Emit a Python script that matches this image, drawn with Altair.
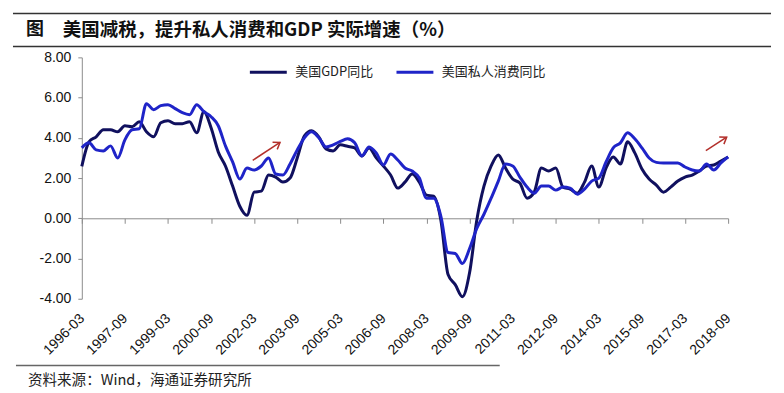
import altair as alt
import pandas as pd

TITLE_TAG = "图"
TITLE = "美国减税，提升私人消费和GDP 实际增速（%）"
SOURCE = "资料来源：Wind，海通证券研究所"
SERIES = ["美国GDP同比", "美国私人消费同比"]
COLORS = ["#10105e", "#1f24c8"]
ARROW_COLOR = "#b3302b"

# quarterly categories 1996-03 ... 2018-09
quarters = [f"{y}-{m:02d}" for y in range(1996, 2019) for m in (3, 6, 9, 12)][:91]
tick_labels = ["1996-03", "1997-09", "1999-03", "2000-09", "2002-03", "2003-09",
               "2005-03", "2006-09", "2008-03", "2009-09", "2011-03", "2012-09",
               "2014-03", "2015-09", "2017-03", "2018-09"]
y_ticks = [-4, -2, 0, 2, 4, 6, 8]

gdp = [2.58, 3.8, 4.05, 4.4, 4.4, 4.3, 4.6, 4.55, 4.8, 4.3,
       4.05, 4.75, 4.85, 4.7, 4.7, 4.8, 4.25, 5.3, 4.5, 3.3,
       2.6, 1.6, 0.6, 0.15, 1.3, 1.35, 2.15, 2.05, 1.8, 2.0,
       3.0, 4.1, 4.35, 4.05, 3.45, 3.35, 3.65, 3.58, 3.5, 3.1,
       3.5, 3.0, 2.6, 2.15, 1.5, 1.8, 2.2, 1.8, 1.15, 1.1,
       -0.1, -2.8, -3.3, -3.9, -2.7, -0.1, 1.6, 2.6, 3.15, 2.5,
       1.95, 1.75, 1.0, 1.3, 2.5, 2.35, 2.5, 1.55, 1.45, 1.25,
       1.8, 2.6, 1.55, 2.5, 3.05, 2.7, 3.8, 3.25, 2.45, 1.95,
       1.65, 1.3, 1.55, 1.85, 2.05, 2.15, 2.35, 2.6, 2.65, 2.85,
       3.05]
pce = [3.5, 3.75, 3.4, 3.35, 3.6, 3.0, 3.9, 4.4, 4.45, 5.7,
       5.4, 5.6, 5.65, 5.45, 5.25, 5.15, 5.65, 5.3, 5.05, 4.6,
       3.6, 2.8, 1.95, 2.5, 2.4, 2.6, 3.0, 2.2, 2.15, 2.7,
       3.4, 4.0, 4.3, 4.0, 3.55, 3.65, 3.82, 3.95, 3.75, 3.1,
       3.55, 3.25, 2.65, 3.2, 2.9, 2.5, 2.35, 2.0, 1.0, 1.0,
       0.1, -1.7, -1.75, -2.25, -1.5, -0.5, 0.2, 1.0, 1.85, 2.7,
       2.6, 2.05, 1.55, 1.25, 1.6, 1.6, 1.4, 1.55, 1.5, 1.2,
       1.45, 1.85, 2.0, 2.8, 3.5, 3.75, 4.25, 3.95, 3.5, 3.0,
       2.78, 2.75, 2.75, 2.75, 2.55, 2.4, 2.35, 2.7, 2.4, 2.75,
       3.05]

# annotation arrows (data coordinates: quarter index, percent)
arrow_x = [23.8, 86.9]
arrow_y = [2.88, 3.36]
arrow_x2 = [27.6, 89.8]
arrow_y2 = [3.77, 4.03]

rows = []
for name, vals in zip(SERIES, [gdp, pce]):
    for i, (q, v) in enumerate(zip(quarters, vals)):
        rows.append({"idx": i, "quarter": q, "series": name, "value": v})
df = pd.DataFrame(rows)
arrows = pd.DataFrame({"idx": arrow_x, "value": arrow_y, "x2": arrow_x2, "y2": arrow_y2})

W, H = 648, 242
zero_offset = -(H - H * 8 / 12)

label_expr = "[" + ",".join(f"'{t}'" for t in tick_labels) + "][round(datum.value / 6)]"
y_label_expr = "replace(format(datum.value, '.2f'), '\u2212', '-')"
AXIS_FONT = "Liberation Sans"
CJK_FONT = "Noto Sans CJK SC"

x_axis = alt.Axis(values=list(range(0, 91, 6)), labelExpr=label_expr, title=None,
                  grid=False, offset=zero_offset, domainColor="#8c8c8c", tickColor="#8c8c8c",
                  tickSize=5, labelAngle=315, labelAlign="right", labelBaseline="middle",
                  labelPadding=93, labelFont=AXIS_FONT, labelFontSize=14, labelColor="#111111",
                  labelOverlap=False, labelFlush=False)
y_axis = alt.Axis(values=y_ticks, labelExpr=y_label_expr, title=None, grid=False,
                  domainColor="#8c8c8c", tickColor="#8c8c8c", tickSize=4, labelPadding=7,
                  labelFont=AXIS_FONT, labelFontSize=14, labelColor="#111111")

x_enc = alt.X("idx:Q", scale=alt.Scale(domain=[0, 90], nice=False, zero=False), axis=x_axis)
y_enc = alt.Y("value:Q", scale=alt.Scale(domain=[-4, 8], nice=False), axis=y_axis)

color = alt.Color("series:N", scale=alt.Scale(domain=SERIES, range=COLORS),
                  legend=alt.Legend(title=None, orient="none", legendX=167, legendY=-5,
                                    direction="horizontal", symbolType="stroke",
                                    symbolSize=1369, symbolStrokeWidth=3, labelOffset=7,
                                    columnPadding=16, padding=0, labelFont=CJK_FONT,
                                    labelFontSize=13, labelColor="#222222"))

base = alt.Chart(df).encode(x=x_enc, y=y_enc, color=color)
gdp_line = base.transform_filter(alt.datum.series == SERIES[0]).mark_line(
    interpolate="monotone", strokeWidth=3)
pce_line = base.transform_filter(alt.datum.series == SERIES[1]).mark_line(
    interpolate="monotone", strokeWidth=3)

arrow_shaft = alt.Chart(arrows).mark_rule(color=ARROW_COLOR, strokeWidth=1.5).encode(
    x=x_enc, y=y_enc, x2="x2:Q", y2="y2:Q")
arrow_head = alt.Chart(arrows).mark_point(
    shape="M-1,-0.7L0,0L-1,0.7", filled=False, color=ARROW_COLOR, strokeWidth=1.5,
    size=150, angle=327, opacity=1).encode(
    x=alt.X("x2:Q", scale=alt.Scale(domain=[0, 90], nice=False, zero=False), axis=x_axis),
    y=alt.Y("y2:Q", scale=alt.Scale(domain=[-4, 8], nice=False), axis=y_axis))

one = pd.DataFrame({"a": [0]})


def hrule(x1, x2, y, color, width):
    return alt.Chart(one).mark_rule(color=color, strokeWidth=width).encode(
        x=alt.value(x1), x2=alt.value(x2), y=alt.value(y))


def label(text, x, y, size, weight="normal", color="#111111", font=CJK_FONT):
    return alt.Chart(pd.DataFrame({"t": [text]})).mark_text(
        align="left", baseline="middle", font=font, fontSize=size, fontWeight=weight,
        color=color).encode(x=alt.value(x), y=alt.value(y), text="t:N")


top_rule = hrule(-69, 691, -44, "#333333", 1.5)
title_rule = hrule(-69, 691, -11, "#333333", 1.5)
bottom_rule = hrule(-66, 419, 309, "#666666", 1.5)
title_tag = label(TITLE_TAG, -56, -27, 18, "bold")
title_text = label(TITLE, -19, -27, 18.5, "bold")
source_text = label(SOURCE, -54, 324, 14.6, color="#222222")

chart = alt.layer(
    gdp_line, pce_line, arrow_shaft, arrow_head,
    top_rule, title_rule, bottom_rule, title_tag, title_text, source_text,
).properties(width=W, height=H, padding=4, background="white").configure_view(strokeWidth=0)

chart.save("out.html", embed_options={"renderer": "svg", "actions": False})
